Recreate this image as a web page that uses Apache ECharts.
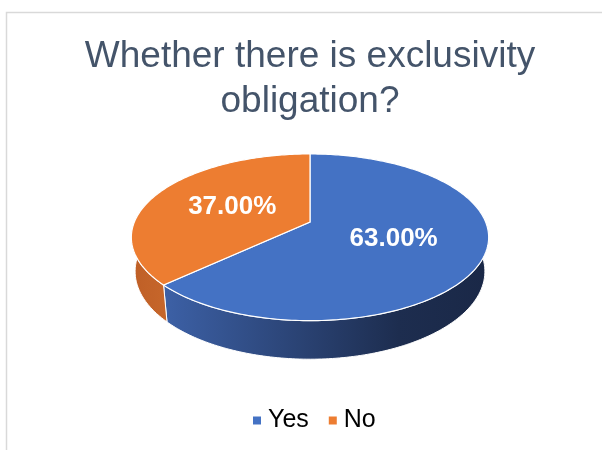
<!DOCTYPE html>
<html>
<head>
<meta charset="utf-8">
<script src="https://cdn.jsdelivr.net/npm/echarts@6/dist/echarts.min.js"></script>
<style>
  html, body { margin: 0; padding: 0; background: #fff; }
  #chart { width: 602px; height: 450px; }
</style>
</head>
<body>
<div id="chart"></div>
<script>
// Share of answers, in percent
const categories = ['Yes', 'No'];
const shares = [63, 37];

const titleText = 'Whether there is exclusivity\nobligation?';

// Slice colours (top face) and side shading
const topColors = ['#4472C4', '#ED7D31'];
const sideStops = [
  [[0, '#4468B0'], [0.12, '#3B5EA2'], [0.75, '#1D2D4F'], [1, '#1A2847']],
  [[0, '#BF5F26'], [0.12, '#C8682C'], [0.5, '#B85A22'], [1, '#A84F1C']]
];

// Simple perspective camera for a tilted disc of unit radius
const cam = {
  cx: 310, cy: 222,       // screen point of the disc centre (top face)
  f: 850,                 // focal scale
  d: 4.84,                // camera distance
  tilt: 27.3 * Math.PI / 180,
  thick: 0.22             // disc thickness
};
const sinT = Math.sin(cam.tilt), cosT = Math.cos(cam.tilt);

// angle: clockwise from 12 o'clock; r: radius; h: height (0 top, negative below)
function project(angle, r, h) {
  const X = r * Math.sin(angle);
  const Z = -r * Math.cos(angle);
  const depth = cam.d - (h * sinT + Z * cosT);
  return [
    cam.cx + cam.f * X / depth,
    cam.cy - cam.f * (h * cosT - Z * sinT) / depth
  ];
}

function arc(a0, a1, h) {
  const pts = [];
  const n = Math.max(2, Math.ceil(Math.abs(a1 - a0) / (Math.PI / 180)));
  for (let i = 0; i <= n; i++) {
    pts.push(project(a0 + (a1 - a0) * i / n, 1, h));
  }
  return pts;
}

const total = shares.reduce((s, v) => s + v, 0);
let running = 0;
const sliceRanges = shares.map(v => {
  const r = [running, running + v, total];
  running += v;
  return r;
});

const sideFrom = 80 * Math.PI / 180;
const sideTo = 280 * Math.PI / 180;

function makeRenderItem(idx) {
  return function (params, api) {
    const full = api.value(2);
    const a0 = api.value(0) / full * Math.PI * 2;
    const a1 = api.value(1) / full * Math.PI * 2;
    const children = [];

    // visible outer wall
    const b0 = Math.max(a0, sideFrom), b1 = Math.min(a1, sideTo);
    if (b1 > b0) {
      const top = arc(b0, b1, 0);
      const bottom = arc(b1, b0, -cam.thick);
      children.push({
        type: 'polygon',
        z2: 1,
        shape: { points: top.concat(bottom) },
        style: {
          fill: {
            type: 'linear', global: true,
            x: 132, y: 0, x2: 488, y2: 0,
            colorStops: sideStops[idx].map(s => ({ offset: s[0], color: s[1] }))
          },
          stroke: '#ffffff',
          lineWidth: 1
        }
      });
    }

    // top face
    children.push({
      type: 'polygon',
      z2: 2,
      shape: { points: [project(0, 0, 0)].concat(arc(a0, a1, 0)) },
      style: { fill: api.visual('color'), stroke: '#ffffff', lineWidth: 1.2 }
    });

    // percentage label
    const mid = (a0 + a1) / 2;
    const p = project(mid, 0.5, 0);
    const pct = (api.value(1) - api.value(0)) / full * 100;
    children.push({
      type: 'text',
      z2: 3,
      x: p[0], y: p[1],
      style: {
        text: pct.toFixed(2) + '%',
        fill: '#ffffff',
        font: 'bold 26px "Liberation Sans", Arial, sans-serif',
        align: 'center',
        verticalAlign: 'middle'
      }
    });

    return { type: 'group', children: children };
  };
}

const chart = echarts.init(document.getElementById('chart'), null, { renderer: 'canvas' });

chart.setOption({
  animation: false,
  backgroundColor: '#ffffff',
  color: topColors,
  title: {
    text: titleText,
    left: 305,
    textAlign: 'center',
    top: 29,
    textStyle: {
      fontFamily: '"Liberation Sans", Arial, sans-serif',
      fontSize: 37,
      fontWeight: 'normal',
      color: '#44546A',
      lineHeight: 45
    }
  },
  legend: {
    data: categories,
    left: 248,
    top: 403,
    icon: 'rect',
    itemWidth: 8,
    itemHeight: 8,
    itemGap: 20,
    selectedMode: false,
    textStyle: {
      fontFamily: '"Liberation Sans", Arial, sans-serif',
      fontSize: 25,
      color: '#000000',
      padding: [0, 0, 0, 2]
    }
  },
  graphic: [{
    type: 'polyline',
    shape: { points: [[6.5, 450], [6.5, 12.5], [602, 12.5]] },
    style: { stroke: '#D9D9D9', lineWidth: 1.5, fill: null }
  }],
  series: categories.map((name, i) => ({
    type: 'custom',
    name: name,
    coordinateSystem: 'none',
    itemStyle: { color: topColors[i] },
    renderItem: makeRenderItem(i),
    data: [sliceRanges[i]]
  }))
});
</script>
</body>
</html>
